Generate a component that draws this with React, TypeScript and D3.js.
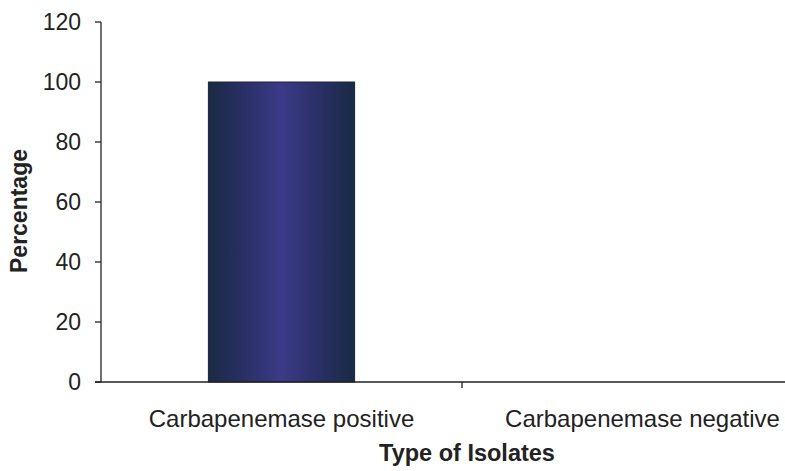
import React from "react";
import * as d3 from "d3";

const categories = ["Carbapenemase positive", "Carbapenemase negative"];
const percentages = [100, 0];
const yTicks = [0, 20, 40, 60, 80, 100, 120];

const W = 785;
const H = 471;
const margin = { left: 101, top: 22, bottom: 89 };
const font = "'Liberation Sans', Arial, sans-serif";

export default function App() {
  const x = d3
    .scaleBand<string>()
    .domain(categories)
    .range([margin.left, margin.left + 722])
    .paddingInner(0)
    .paddingOuter(0);
  const y = d3.scaleLinear().domain([0, 120]).range([H - margin.bottom, margin.top]);
  const bw = x.bandwidth();
  const barW = bw * 0.405;
  const y0 = y(0);

  return (
    <svg
      width={W}
      height={H}
      style={{ position: "absolute", left: 0, top: 0, background: "#fff" }}
      fontFamily={font}
    >
      <defs>
        <linearGradient id="barGrad" x1="0" x2="1" y1="0" y2="0">
          <stop offset="0" stopColor="#1a2a44" />
          <stop offset="0.22" stopColor="#272f62" />
          <stop offset="0.5" stopColor="#3b3a88" />
          <stop offset="0.78" stopColor="#272f62" />
          <stop offset="1" stopColor="#1a2a44" />
        </linearGradient>
      </defs>

      {categories.map((c, i) => {
        const v = percentages[i];
        if (v <= 0) return null;
        const cx = (x(c) as number) + bw / 2;
        return (
          <rect
            key={c}
            x={cx - barW / 2}
            y={y(v)}
            width={barW}
            height={y0 - y(v)}
            fill="url(#barGrad)"
            stroke="#1b2438"
            strokeWidth={1}
          />
        );
      })}

      {/* y axis */}
      <line x1={margin.left} x2={margin.left} y1={y(120)} y2={y0} stroke="#222" strokeWidth={1.3} />
      {yTicks.map((t) => (
        <g key={t}>
          <line x1={margin.left - 6} x2={margin.left} y1={y(t)} y2={y(t)} stroke="#222" strokeWidth={1.3} />
          <text
            x={margin.left - 20}
            y={y(t)}
            dy="0.36em"
            textAnchor="end"
            fontSize={23}
            fill="#222"
          >
            {t}
          </text>
        </g>
      ))}

      {/* x axis */}
      <line x1={margin.left - 6} x2={W} y1={y0} y2={y0} stroke="#222" strokeWidth={1.3} />
      {categories.map((c, i) => {
        const left = x(c) as number;
        return (
          <g key={c}>
            {i > 0 && (
              <line x1={left} x2={left} y1={y0} y2={y0 + 6} stroke="#222" strokeWidth={1.3} />
            )}
            <text
              x={left + bw / 2}
              y={427}
              textAnchor="middle"
              fontSize={24}
              fill="#222"
            >
              {c}
            </text>
          </g>
        );
      })}

      <text
        x={467}
        y={461}
        textAnchor="middle"
        fontSize={23.5}
        fontWeight="bold"
        fill="#222"
      >
        Type of Isolates
      </text>
      <text
        transform={`translate(27, 211) rotate(-90)`}
        textAnchor="middle"
        fontSize={23}
        fontWeight="bold"
        fill="#222"
      >
        Percentage
      </text>
    </svg>
  );
}
